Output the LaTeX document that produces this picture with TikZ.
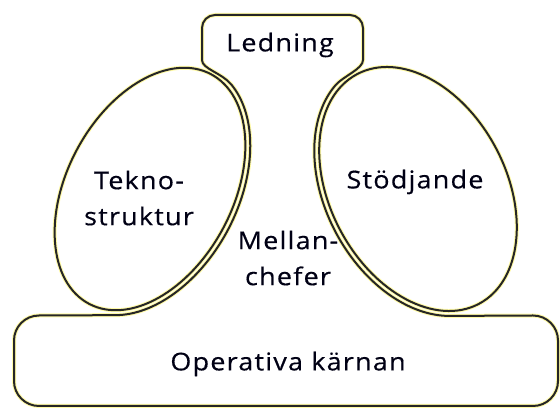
\documentclass[tikz,border=0pt]{standalone}
\usepackage{fontspec}
\setmainfont{Open Sans}[FakeStretch=1.1, LetterSpace=5, FakeBold=0.4]
\begin{document}
\begin{tikzpicture}[x=1pt,y=1pt,
  lbl/.style={font=\fontsize{24.5}{36}\selectfont, align=center, inner sep=0pt, text=black!92!blue},
  outl/.style={draw=black!85, line width=2pt, line join=round,
    preaction={draw=yellow!35, line width=4pt}}]
\useasboundingbox (0,0) rectangle (560,409);
% ellipses (Teknostruktur, Stoedjande)
\begin{scope}[shift={(150,220)}, rotate=62]
  \draw[outl] (0,0) ellipse[x radius=130, y radius=83];
\end{scope}
\begin{scope}[shift={(418,220)}, rotate=-62]
  \draw[outl] (0,0) ellipse[x radius=130, y radius=88];
\end{scope}
% middle line + strategic apex + operating core outline
\draw[outl]
  plot[domain=-160.9:-15, samples=70, variable=\t]
    ({150+135*cos(\t)*0.4695-88*sin(\t)*0.8829},{220+135*cos(\t)*0.8829+88*sin(\t)*0.4695})
  .. controls (221.5,336.4) and (202,340) .. (202,349)
  -- (202,381) arc[start angle=180, end angle=90, radius=13]
  -- (350,394) arc[start angle=90, end angle=0, radius=13]
  -- (363,349)
  .. controls (363,340) and (343.5,333) .. (335.5,323.8)
  -- plot[domain=195:340, samples=70, variable=\t]
    ({418+135*cos(\t)*0.4695+93*sin(\t)*0.8829},{220-135*cos(\t)*0.8829+93*sin(\t)*0.4695})
  -- (533,93.5) arc[start angle=90, end angle=0, radius=25]
  -- (558,28) arc[start angle=0, end angle=-90, radius=25]
  -- (39,3) arc[start angle=270, end angle=180, radius=25]
  -- (14,68.5) arc[start angle=180, end angle=90, radius=25]
  -- cycle;
% labels
\node[lbl] (ledning) at (280,364) {Ledning};
\node[lbl] (tekno) at (139,211) {Tekno-\\struktur};
\node[lbl] (stod) at (415,227) {Stödjande};
\node[lbl] (mellan) at (288,151) {Mellan-\\chefer};
\node[lbl] (oper) at (288,45) {Operativa kärnan};
\end{tikzpicture}
\end{document}
